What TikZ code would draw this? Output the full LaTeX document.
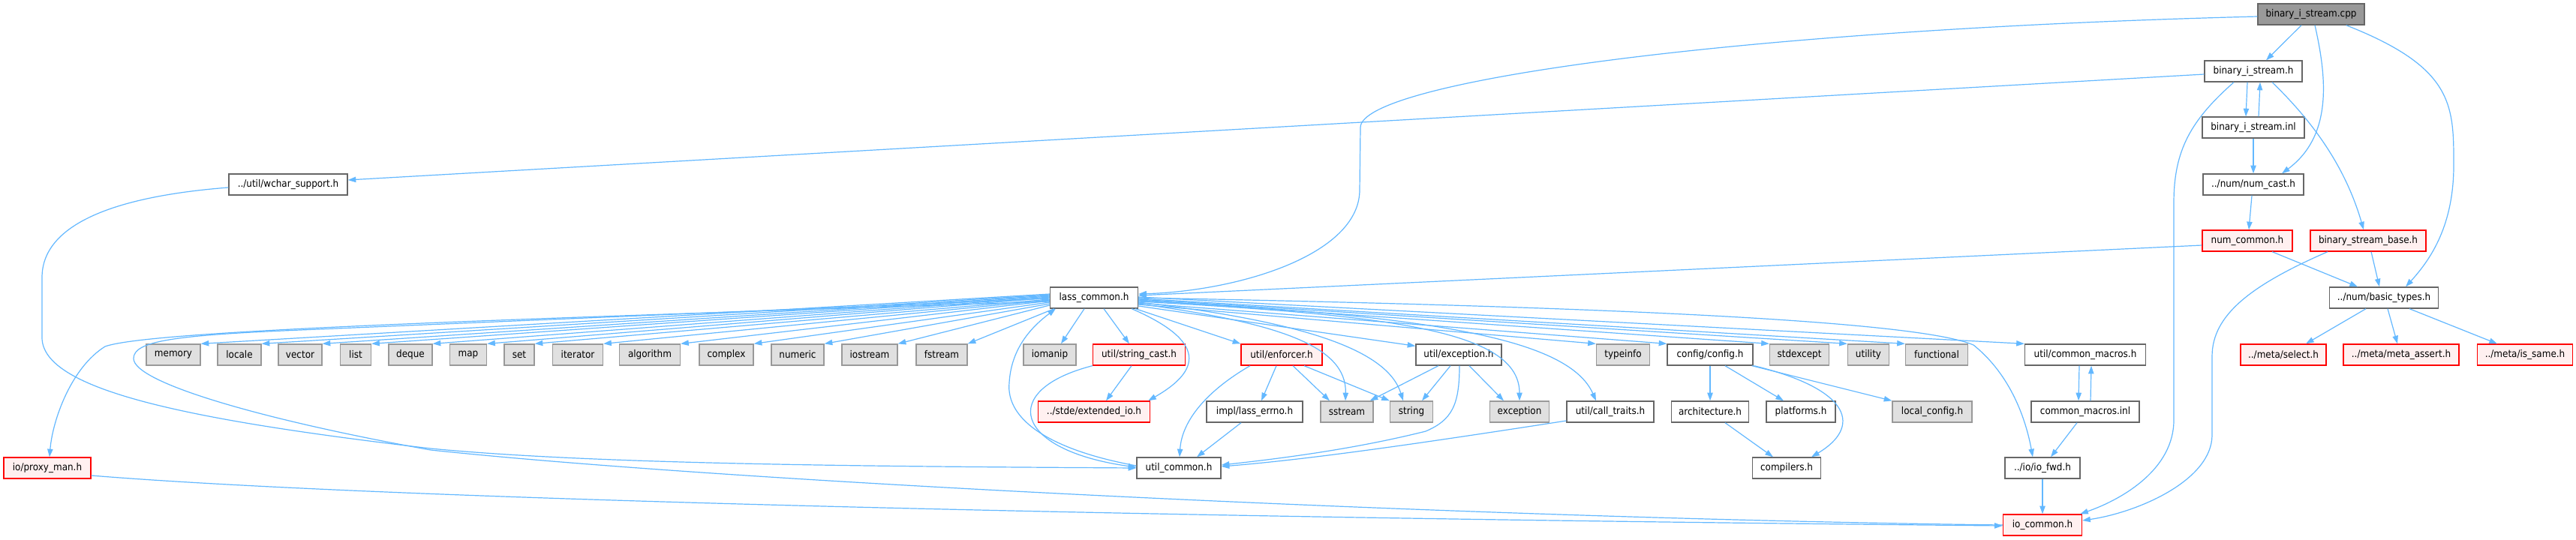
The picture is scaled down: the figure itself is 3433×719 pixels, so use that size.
\documentclass[tikz,border=0pt]{standalone}
\usepackage{fontspec}
\setmainfont{DejaVu Sans}[FakeStretch=0.9]
\usetikzlibrary{arrows.meta,calc}
\definecolor{edgec}{HTML}{63B8FF}
\definecolor{bordergray}{HTML}{666666}
\definecolor{sysborder}{HTML}{999999}
\definecolor{sysfill}{HTML}{E0E0E0}
\definecolor{redfill}{HTML}{FFF0F0}
\definecolor{rootfill}{HTML}{999999}
\newcommand\mynode[5]{\node[#1, minimum width=#4*0.75pt] (#2) at (#3) {#5};}
\begin{document}
\begin{tikzpicture}[x=0.75pt,y=-0.75pt,
  box/.style={draw, rectangle, line width=1pt, minimum height=21pt, inner sep=0pt, font=\fontsize{10}{12}\selectfont, text=black},
  hdr/.style={box, draw=bordergray, fill=white},
  syshdr/.style={box, draw=sysborder, fill=sysfill},
  redhdr/.style={box, draw=red, fill=redfill},
  roothdr/.style={box, draw=bordergray, fill=rootfill},
  dep/.style={draw=edgec, line width=0.9pt, -{Triangle[length=8pt,width=5.5pt]}}]
\fill[white] (0,0) rectangle (3433,719);
\useasboundingbox (0,0) rectangle (3433,719);
% row 0-4
\mynode{roothdr}{cpp}{3080,19}{142}{binary\_i\_stream.cpp}
\mynode{hdr}{bis}{3003,95}{130}{binary\_i\_stream.h}
\mynode{hdr}{inl}{3003,170}{136}{binary\_i\_stream.inl}
\mynode{hdr}{ncast}{3003,246}{134}{../num/num\_cast.h}
\mynode{hdr}{wchar}{384,246}{158}{../util/wchar\_support.h}
\mynode{redhdr}{ncommon}{2995,321}{120}{num\_common.h}
\mynode{redhdr}{bsb}{3156,321}{154}{binary\_stream\_base.h}
% row 5
\mynode{hdr}{lass}{1458,397}{117}{lass\_common.h}
\mynode{hdr}{basic}{3177,397}{145}{../num/basic\_types.h}
% row 6
\mynode{syshdr}{memory}{231,473}{72}{memory}
\mynode{syshdr}{locale}{319,473}{58}{locale}
\mynode{syshdr}{vector}{400,473}{58}{vector}
\mynode{syshdr}{nlist}{474,473}{41}{list}
\mynode{syshdr}{deque}{547,473}{58}{deque}
\mynode{syshdr}{nmap}{624,473}{49}{map}
\mynode{syshdr}{nset}{692,473}{40}{set}
\mynode{syshdr}{iterator}{770,473}{67}{iterator}
\mynode{syshdr}{algorithm}{866,473}{81}{algorithm}
\mynode{syshdr}{complex}{968,473}{72}{complex}
\mynode{syshdr}{numeric}{1063,473}{70}{numeric}
\mynode{syshdr}{iostream}{1159,473}{74}{iostream}
\mynode{syshdr}{fstream}{1255,473}{68}{fstream}
\mynode{syshdr}{iomanip}{1399,473}{70}{iomanip}
\mynode{redhdr}{scast}{1518,473}{123}{util/string\_cast.h}
\mynode{redhdr}{enforcer}{1708,473}{108}{util/enforcer.h}
\mynode{hdr}{exch}{1944,473}{114}{util/exception.h}
\mynode{syshdr}{typeinfo}{2163,473}{71}{typeinfo}
\mynode{hdr}{config}{2279,473}{114}{config/config.h}
\mynode{syshdr}{stdexcept}{2398,473}{79}{stdexcept}
\mynode{syshdr}{utility}{2490,473}{55}{utility}
\mynode{syshdr}{functional}{2581,473}{83}{functional}
\mynode{hdr}{cmh}{2779,473}{161}{util/common\_macros.h}
\mynode{redhdr}{select}{3043,473}{114}{../meta/select.h}
\mynode{redhdr}{massert}{3200,473}{154}{../meta/meta\_assert.h}
\mynode{redhdr}{issame}{3365,473}{127}{../meta/is\_same.h}
% row 7
\mynode{redhdr}{extio}{1458,549}{149}{../stde/extended\_io.h}
\mynode{hdr}{lerrno}{1672,549}{128}{impl/lass\_errno.h}
\mynode{syshdr}{sstream}{1795,549}{70}{sstream}
\mynode{syshdr}{nstring}{1881,549}{57}{string}
\mynode{syshdr}{exception}{2025,549}{79}{exception}
\mynode{hdr}{ctraits}{2146,549}{116}{util/call\_traits.h}
\mynode{hdr}{arch}{2279,549}{103}{architecture.h}
\mynode{hdr}{platforms}{2400,549}{92}{platforms.h}
\mynode{syshdr}{lconfig}{2575,549}{106}{local\_config.h}
\mynode{hdr}{cmi}{2779,549}{144}{common\_macros.inl}
% row 8
\mynode{redhdr}{proxy}{63,624}{116}{io/proxy\_man.h}
\mynode{hdr}{util}{1571,624}{112}{util\_common.h}
\mynode{hdr}{compilers}{2381,624}{91}{compilers.h}
\mynode{hdr}{iofwd}{2722,624}{100}{../io/io\_fwd.h}
% row 9
\mynode{redhdr}{iocommon}{2722,700}{105}{io\_common.h}

% ---- edges from cpp
\draw[dep] ($(cpp.west)+(0,3)$) .. controls (2300,40) and (1813,110) .. (1813,170) -- (1812,253) .. controls (1812,340) and (1650,388) .. ($(lass.east)+(0,-5)$);
\draw[dep] ($(cpp.south)+(-13,0)$) -- ($(bis.north)+(17,0)$);
\draw[dep] ($(cpp.south)+(5,0)$) .. controls (3100,100) and (3110,180) .. ($(ncast.north)+(38,0)$);
\draw[dep] ($(cpp.south east)+(-25,0)$) .. controls (3270,90) and (3270,140) .. (3270,220) .. controls (3270,300) and (3240,345) .. ($(basic.north)+(29,0)$);
% ---- bis
\draw[dep] ($(bis.west)+(0,4)$) -- ($(wchar.east)+(0,-6)$);
\draw[dep] ($(bis.south)+(-8,0)$) -- ($(inl.north)+(-10,0)$);
\draw[dep] ($(bis.south)+(25,0)$) .. controls (3080,160) and (3125,220) .. ($(bsb.north)+(-6,0)$);
\draw[dep] ($(bis.south)+(-26,0)$) .. controls (2920,160) and (2897,200) .. (2897,270) -- (2897,560) .. controls (2897,625) and (2830,665) .. ($(iocommon.north east)+(-3,0)$);
% ---- inl
\draw[dep] ($(inl.north)+(7,0)$) -- ($(bis.south)+(9,0)$);
\draw[dep] (inl.south) -- (ncast.north);
% ---- ncast, ncommon, bsb
\draw[dep] ($(ncast.south)+(-2,0)$) -- ($(ncommon.north)+(2,0)$);
\draw[dep] ($(ncommon.west)+(0,6)$) -- ($(lass.east)+(0,-3)$);
\draw[dep] ($(ncommon.south)+(33,0)$) -- ($(basic.north)+(-35,0)$);
\draw[dep] ($(bsb.south)+(4,0)$) -- ($(basic.north)+(-6,0)$);
\draw[dep] ($(bsb.south)+(-54,0)$) .. controls (3000,380) and (2948,420) .. (2948,475) -- (2948,580) .. controls (2948,640) and (2850,683) .. ($(iocommon.east)+(0,-6)$);
% ---- basic
\draw[dep] ($(basic.south)+(-24,0)$) -- ($(select.north)+(30,0)$);
\draw[dep] ($(basic.south)+(5,0)$) -- ($(massert.north)+(-5,0)$);
\draw[dep] ($(basic.south)+(34,0)$) -- ($(issame.north)+(-37,0)$);
% ---- wchar
\draw[dep] ($(wchar.west)+(0,4)$) .. controls (150,262) and (56,300) .. (56,370) -- (56,450) .. controls (56,520) and (250,560) .. (574,598) .. controls (800,620) and (1200,622) .. (util.west);
% ---- lass to the left
\draw[dep] ($(lass.west)+(0,-5)$) -- (memory.north east);
\draw[dep] ($(lass.west)+(0,-4)$) -- (locale.north east);
\draw[dep] ($(lass.west)+(0,-3)$) -- (vector.north east);
\draw[dep] ($(lass.west)+(0,-2)$) -- (nlist.north east);
\draw[dep] ($(lass.west)+(0,-1)$) -- (deque.north east);
\draw[dep] ($(lass.west)+(0,0)$) -- (nmap.north east);
\draw[dep] ($(lass.west)+(0,2)$) -- (nset.north east);
\draw[dep] ($(lass.west)+(0,3)$) -- (iterator.north east);
\draw[dep] ($(lass.west)+(0,4)$) -- (algorithm.north east);
\draw[dep] ($(lass.west)+(0,6)$) -- (complex.north east);
\draw[dep] ($(lass.west)+(0,8)$) -- (numeric.north east);
\draw[dep] ($(lass.west)+(0,10)$) -- (iostream.north east);
\draw[dep] ($(lass.south west)+(6,0)$) -- (fstream.north east);
\draw[dep] ($(lass.west)+(0,5)$) .. controls (700,425) and (200,440) .. (140,462) .. controls (95,490) and (70,560) .. ($(proxy.north)+(3,0)$);
% ---- lass downward
\draw[dep] ($(lass.south)+(-13,0)$) -- ($(iomanip.north)+(15,0)$);
\draw[dep] ($(lass.south)+(13,0)$) -- ($(scast.north)+(-13,0)$);
\draw[dep] ($(lass.south east)+(-9,0)$) .. controls (1620,460) and (1590,500) .. ($(extio.north east)+(-3,0)$);
\draw[dep] ($(lass.south east)+(-4,0)$) -- (enforcer.north west);
\draw[dep] ($(lass.east)+(0,8)$) .. controls (1700,430) and (1795,460) .. ($(sstream.north)+(-2,0)$);
\draw[dep] ($(lass.east)+(0,6)$) .. controls (1750,430) and (1850,470) .. ($(nstring.north)+(-11,0)$);
\draw[dep] ($(lass.east)+(0,11)$) -- ($(exch.north west)+(0,3)$);
\draw[dep] ($(lass.east)+(0,5)$) .. controls (1850,420) and (2025,440) .. (exception.north);
\draw[dep] ($(lass.east)+(0,4)$) .. controls (1900,420) and (2090,450) .. ($(ctraits.north)+(-19,0)$);
% ---- lass to the right
\draw[dep] ($(lass.east)+(0,9)$) -- (typeinfo.north west);
\draw[dep] ($(lass.east)+(0,7)$) -- (config.north west);
\draw[dep] ($(lass.east)+(0,3)$) -- (stdexcept.north west);
\draw[dep] ($(lass.east)+(0,2)$) -- (utility.north west);
\draw[dep] ($(lass.east)+(0,1)$) -- (functional.north west);
\draw[dep] ($(lass.east)+(0,-1)$) -- (cmh.north west);
\draw[dep] (lass.east) .. controls (2200,410) and (2560,430) .. (2630,460) .. controls (2680,500) and (2700,560) .. ($(iofwd.north)+(-13,0)$);
% ---- back edges into lass
\draw[dep] ($(util.west)+(0,-3)$) .. controls (1400,600) and (1340,560) .. (1345,510) .. controls (1348,460) and (1380,432) .. ($(lass.south west)+(8,0)$);
\draw[dep] (iocommon.west) .. controls (2000,692) and (1000,645) .. (574,600) .. controls (350,560) and (178,510) .. (178,478) .. controls (178,455) and (230,447) .. (400,440) -- ($(lass.west)+(0,1)$);
% ---- proxy
\draw[dep] ($(proxy.east)+(0,10)$) .. controls (500,665) and (1500,690) .. ($(iocommon.west)+(0,1)$);
% ---- string_cast
\draw[dep] ($(scast.south)+(-10,0)$) -- ($(extio.north)+(16,0)$);
\draw[dep] (scast.south west) .. controls (1330,520) and (1350,600) .. ($(util.west)+(0,-1)$);
% ---- enforcer
\draw[dep] ($(enforcer.south)+(-42,0)$) .. controls (1610,520) and (1575,560) .. ($(util.north)+(1,0)$);
\draw[dep] ($(enforcer.south)+(-7,0)$) -- ($(lerrno.north)+(9,0)$);
\draw[dep] ($(enforcer.south)+(15,0)$) -- ($(sstream.north)+(-23,0)$);
\draw[dep] ($(enforcer.south)+(30,0)$) -- (nstring.north west);
\draw[dep] ($(lerrno.south)+(-18,0)$) -- ($(util.north)+(24,0)$);
% ---- exception.h
\draw[dep] ($(exch.south)+(-27,0)$) -- ($(sstream.north east)+(-5,0)$);
\draw[dep] ($(exch.south)+(-11,0)$) -- ($(nstring.north)+(14,0)$);
\draw[dep] ($(exch.south)+(14,0)$) -- ($(exception.north)+(-21,0)$);
\draw[dep] ($(exch.south)+(1,0)$) .. controls (1945,540) and (1935,560) .. (1900,575) .. controls (1800,600) and (1700,612) .. ($(util.east)+(0,-4)$);
\draw[dep] ($(ctraits.west)+(0,12)$) .. controls (1900,590) and (1750,612) .. ($(util.east)+(0,-2)$);
% ---- config
\draw[dep] (config.south) -- (arch.north);
\draw[dep] ($(config.south)+(20,0)$) -- ($(platforms.north)+(-23,0)$);
\draw[dep] ($(config.south east)+(-2,0)$) -- (lconfig.north west);
\draw[dep] ($(config.south east)+(1,0)$) .. controls (2470,520) and (2480,570) .. ($(compilers.north)+(33,0)$);
\draw[dep] ($(arch.south)+(20,0)$) -- ($(compilers.north)+(-18,0)$);
% ---- common macros, io
\draw[dep] ($(cmh.south)+(-8,0)$) -- ($(cmi.north)+(-9,0)$);
\draw[dep] ($(cmi.north)+(7,0)$) -- ($(cmh.south)+(8,0)$);
\draw[dep] ($(cmi.south)+(-11,0)$) -- ($(iofwd.north)+(11,0)$);
\draw[dep] (iofwd.south) -- (iocommon.north);
\end{tikzpicture}
\end{document}
